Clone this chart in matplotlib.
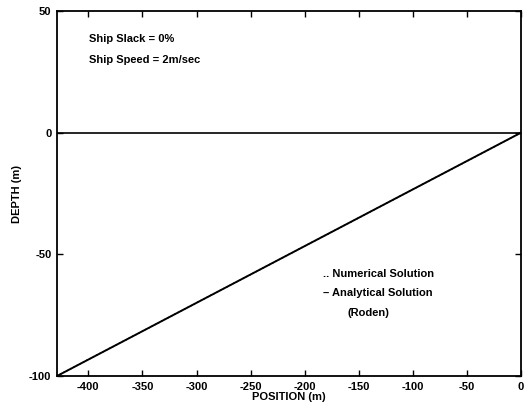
import matplotlib
matplotlib.use("Agg")
import matplotlib.pyplot as plt

plt.rcParams['font.family'] = ['Liberation Sans', 'DejaVu Sans']
plt.rcParams['font.weight'] = 'bold'
plt.rcParams['axes.unicode_minus'] = False

# Data
numerical_x = [-429, -400, -350, -300, -250, -200, -150, -100, -50, 0]
numerical_y = [-100, -93.2, -81.6, -69.9, -58.3, -46.6, -35.0, -23.3, -11.7, 0]
analytical_x = [-429, 0]
analytical_y = [-100, 0]
xticks = [-400, -350, -300, -250, -200, -150, -100, -50, 0]
yticks = [-100, -50, 0, 50]

fs = 8

fig = plt.figure(figsize=(5.25, 4.11), dpi=100)
ax = fig.add_axes([57/525, 1-376/411, (521-57)/525, (376-11)/411])

ax.plot(analytical_x, analytical_y, color='black', lw=1.4)
ax.plot(numerical_x, numerical_y, color='black', lw=1.0, ls=':')
ax.axhline(0, color='black', lw=1.2)

ax.set_xlim(-429, 0)
ax.set_ylim(-100, 50)
ax.set_xticks(xticks)
ax.set_yticks(yticks)
ax.tick_params(direction='in', top=True, right=True, labelsize=fs, length=4, width=1, pad=4)
for lab in ax.get_xticklabels() + ax.get_yticklabels():
    lab.set_fontweight('bold')
for s in ax.spines.values():
    s.set_linewidth(1.3)

ax.set_xlabel('POSITION (m)', fontsize=fs, fontweight='bold', labelpad=0)
ax.set_ylabel('DEPTH (m)', fontsize=fs, fontweight='bold', labelpad=5)

ax.text(0.068, 0.922, 'Ship Slack = 0%', transform=ax.transAxes, fontsize=fs, fontweight='bold', va='center')
ax.text(0.068, 0.865, 'Ship Speed = 2m/sec', transform=ax.transAxes, fontsize=fs, fontweight='bold', va='center')

ax.text(0.574, 0.28, '.. Numerical Solution', transform=ax.transAxes, fontsize=fs, fontweight='bold', va='center')
ax.text(0.574, 0.228, '\u2013 Analytical Solution', transform=ax.transAxes, fontsize=fs, fontweight='bold', va='center')
ax.text(0.627, 0.173, '(Roden)', transform=ax.transAxes, fontsize=fs, fontweight='bold', va='center')

fig.savefig('out.png', dpi=100)
